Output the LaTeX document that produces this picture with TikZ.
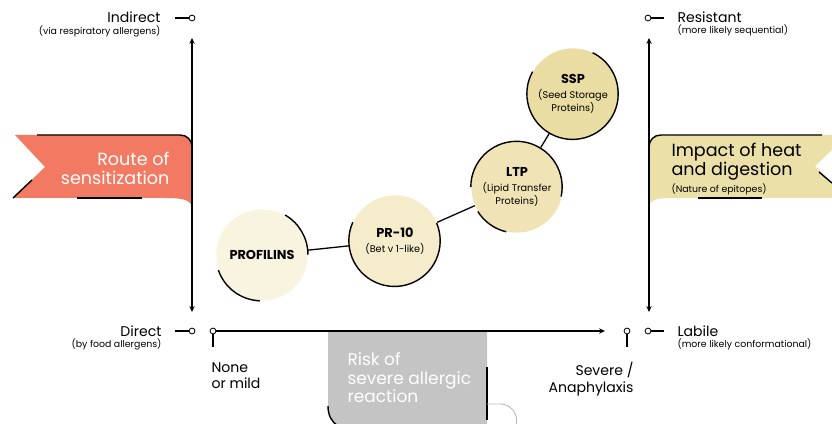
\documentclass[tikz,border=0pt]{standalone}
\usepackage{fontspec}
\setmainfont{Poppins}
\usetikzlibrary{arrows.meta}
\definecolor{salmon}{HTML}{F27A63}
\definecolor{sand}{HTML}{EBE0A8}
\definecolor{creamA}{HTML}{F8F4E0}
\definecolor{creamB}{HTML}{F4ECCB}
\definecolor{creamC}{HTML}{F0E4B6}
\definecolor{creamD}{HTML}{EADDA3}
\definecolor{riskgray}{HTML}{C4C4C4}
\definecolor{rimgray}{HTML}{BBBBBB}
\newcommand\labfont{\fontsize{12}{14}\selectfont}
\newcommand\notefont{\fontsize{8}{9}\selectfont}
\newcommand\flagfont{\fontsize{15}{16}\selectfont}
\newcommand\namefont{\fontsize{11}{12}\selectfont\bfseries}
\newcommand\fullfont{\fontsize{8.3}{9.5}\selectfont}
\begin{document}
\begin{tikzpicture}[x=0.3mm,y=-0.3mm,line width=0.9pt,
  dot/.style={circle,draw,fill=white,inner sep=0pt,minimum size=5pt,line width=0.7pt},
  ax/.style={-{Stealth[length=5pt,width=4.5pt]}},
  ax2/.style={{Stealth[length=5pt,width=4.5pt]}-{Stealth[length=5pt,width=4.5pt]}},
  prot/.style={circle,inner sep=0pt,minimum size=27.4mm,align=center,font=\fullfont},
  rim/.style={line width=1.2pt},
  lab/.style={inner sep=0pt,font=\labfont},
  note/.style={inner sep=0pt,font=\notefont},
  flag/.style={inner sep=0pt,font=\flagfont,text=white}]
\useasboundingbox (0,0) rectangle (832,424);

% banners
\fill[salmon] (15,135) -- (180,135) .. controls (187,135) and (192,140) .. (192,147) -- (192,206)
  .. controls (189,199) and (180,198) .. (165,198) -- (13,198) -- (45,167) -- cycle;
\draw[rim] (37,135) -- (180,135) .. controls (187,135) and (192,140) .. (192,147);
\draw[rim] (77,198) -- (142,198); \draw[rim] (13,198) -- (32,180);
\fill[sand] (832,135) -- (661,135) .. controls (654,135) and (649,140) .. (649,147) -- (649,206)
  .. controls (651,199) and (659,198) .. (672,198) -- (832,198) -- (832,183) -- (815,166) -- (832,150) -- cycle;
\draw[rim] (822,135) -- (661,135) .. controls (654,135) and (649,140) .. (649,147);
\draw[rim] (698,198) -- (762,198); \draw[rim] (819,172) -- (832,183);
\node[flag,anchor=east,align=right] (route) at (170,168) {Route of\\sensitization};
\node[flag,text=black,anchor=west,align=left] (impact) at (671,169) {Impact of heat\\and digestion\\[-2pt]{\notefont (Nature of epitopes)}};

% risk box
\fill[riskgray] (328,332) -- (487,332) -- (487,430) -- (346,430) .. controls (334,426) and (328,418) .. (328,404) -- cycle;
\draw[rim] (328,406) .. controls (328,416) and (332,422) .. (338,426);
\draw[rim] (487,367) -- (487,420);
\draw[rimgray,line width=0.8pt] (487,404) -- (500,404) arc[start angle=90,end angle=-90,radius=5mm];
\node[flag,font=\fontsize{14.5}{16}\selectfont,anchor=north west,align=left] (risk) at (347,352) {Risk of\\severe allergic\\reaction};

% axes
\coordinate (ltop) at (192,38); \coordinate (lbot) at (192,312);
\coordinate (rtop) at (649,38); \coordinate (rbot) at (649,312);
\draw[ax2] (lbot) -- (ltop); \draw[ax2] (rbot) -- (rtop);
\node[dot] (ind) at (192,18) {}; \coordinate (indL) at (175,18); \draw (indL) -- (ind);
\node[dot] (dir) at (192,331) {}; \coordinate (dirL) at (175,331); \draw (dirL) -- (dir);
\node[dot] (res) at (648,18) {}; \coordinate (resR) at (664,18); \draw (res) -- (resR);
\node[dot] (lab) at (648,331) {}; \coordinate (labR) at (664,331); \draw (lab) -- (labR);
\node[dot] (low) at (213,331) {}; \coordinate (lowT) at (213,347); \draw (low) -- (lowT);
\node[dot] (high) at (627,331) {}; \coordinate (highT) at (627,347); \draw (high) -- (highT);
\coordinate (xend) at (605,331); \draw[ax] (low) -- (xend);

% axis labels
\node[lab,anchor=base east] (indirect) at (161,23) {Indirect};
\node[note,anchor=base east] (indirectN) at (161,35) {(via respiratory allergens)};
\node[lab,anchor=base east] (direct) at (162,336) {Direct};
\node[note,anchor=base east] (directN) at (162,347) {(by food allergens)};
\node[lab,anchor=base west] (resist) at (677,23) {Resistant};
\node[note,anchor=base west] (resistN) at (677,34) {(more likely sequential)};
\node[lab,anchor=base west] (labile) at (677,336) {Labile};
\node[note,anchor=base west] (labileN) at (677,347) {(more likely conformational)};
\node[lab,anchor=north west,align=left] (mild) at (211,362) {None\\or mild};
\node[lab,anchor=north east,align=right] (severe) at (634,362) {Severe /\\Anaphylaxis};

% allergen families
\node[prot,fill=creamA] (pf) at (262,255) {\namefont PROFILINS};
\node[prot,fill=creamB] (pr) at (395,241) {{\namefont PR-10}\\[3pt](Bet v 1-like)};
\node[prot,fill=creamC] (ltp) at (517,187) {{\namefont LTP}\\[3pt](Lipid Transfer\\Proteins)};
\node[prot,fill=creamD] (ssp) at (573,94) {{\namefont SSP}\\[3pt](Seed Storage\\Proteins)};
\draw[line width=1.1pt] (pf) -- (pr); \draw[line width=1.1pt] (pr) -- (ltp); \draw[line width=1.1pt] (ltp) -- (ssp);
\draw[rim] (pf.60) arc[start angle=60,end angle=0,radius=13.7mm];
\draw[rim] (pf.199) arc[start angle=199,end angle=268,radius=13.7mm];
\draw[rim] (pr.156) arc[start angle=156,end angle=383,radius=13.7mm];
\draw[rim] (ltp.180) arc[start angle=180,end angle=-12,radius=13.7mm];
\draw[rim] (ltp.212) arc[start angle=212,end angle=257,radius=13.7mm];
\draw[rim] (ssp.151) arc[start angle=151,end angle=424,radius=13.7mm];
\end{tikzpicture}
\end{document}
